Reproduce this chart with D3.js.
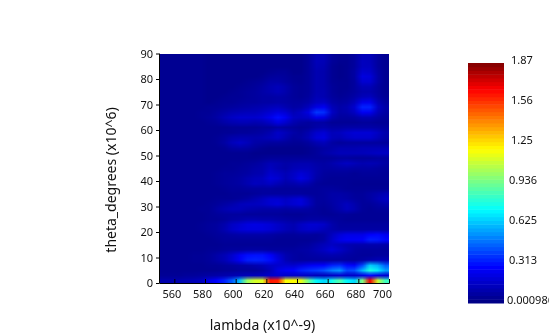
<!DOCTYPE html>
<html>
<head>
<meta charset="utf-8">
<script src="https://cdn.jsdelivr.net/npm/d3@7/dist/d3.min.js"></script>
<style>
  html, body { margin: 0; padding: 0; background: #fff; overflow: hidden; }
  #chart { position: relative; width: 549px; height: 336px; overflow: hidden; }
  canvas, svg { position: absolute; left: 0; top: 0; }
  text { font-family: "Noto Sans", sans-serif; fill: #111; }
</style>
</head>
<body>
<div id="chart"></div>
<script>
const xTicks = [560, 580, 600, 620, 640, 660, 680, 700];
const yTicks = [0, 10, 20, 30, 40, 50, 60, 70, 80, 90];
const barLabels = ["1.87", "1.56", "1.25", "0.936", "0.625", "0.313", "0.000986"];
const barValues = [1.87, 1.56, 1.25, 0.936, 0.625, 0.313, 0.000986];
const jetStops = [0, 0.15, 0.39, 0.64, 0.89, 1];
const jetColors = ["#000080", "#0000ff", "#00ffff", "#ffff00", "#ff0000", "#800000"];

// intensity x100, rows run from theta 90 down to 0 in 2 degree steps, columns 550-700 in 5nm steps
const intensity = [
  [4,4,4,4,4,4,3,3,3,3,3,3,3,3,3,3,3,3,3,6,12,12,6,4,4,7,13,13,7,4],
  [4,4,4,4,4,4,3,3,3,3,3,3,3,3,3,3,3,3,3,6,13,12,6,4,4,7,14,13,7,4],
  [4,4,4,4,4,4,3,3,3,3,3,3,3,3,3,3,3,3,3,6,12,11,5,3,4,7,14,14,7,4],
  [4,4,4,4,4,4,3,3,3,3,3,3,3,3,4,5,5,3,3,6,11,10,5,3,4,8,17,16,8,4],
  [4,4,4,4,4,4,3,3,3,3,3,3,3,4,6,7,6,4,4,6,11,10,5,3,4,8,21,20,9,4],
  [4,4,4,4,4,4,3,3,3,3,3,4,5,6,9,9,7,5,4,6,11,10,5,4,4,7,18,18,9,4],
  [4,4,4,4,4,4,3,3,3,3,4,5,6,8,11,13,10,6,5,6,11,10,6,4,4,7,12,12,7,4],
  [4,4,4,4,4,4,3,3,3,4,5,6,7,9,11,13,10,6,5,6,11,11,6,4,5,7,10,10,7,4],
  [4,4,4,4,4,4,3,3,4,5,5,6,7,8,8,9,8,6,5,7,12,11,7,5,6,9,13,14,8,5],
  [4,4,4,4,4,4,3,4,5,5,6,7,7,8,8,9,8,7,7,9,14,15,9,7,8,13,23,24,12,7],
  [4,4,4,4,4,4,5,5,6,7,8,9,10,11,13,14,11,8,9,14,22,25,13,9,11,18,34,34,16,9],
  [4,4,4,4,4,5,5,7,9,11,12,13,13,15,18,21,18,12,15,22,38,36,16,9,10,15,26,25,13,8],
  [4,4,4,4,4,5,6,8,12,15,17,17,17,19,24,30,25,15,14,16,24,22,11,7,7,8,11,11,8,6],
  [4,4,4,4,4,4,5,6,9,11,12,12,11,12,16,22,17,11,8,7,8,8,5,5,5,5,6,6,5,5],
  [4,4,4,4,4,4,4,4,4,5,5,5,5,6,6,8,7,6,5,6,9,10,8,8,9,9,9,9,8,7],
  [4,4,4,4,4,4,4,4,5,5,6,6,7,8,11,16,13,9,7,11,17,19,13,14,17,19,19,19,15,10],
  [4,4,4,4,4,4,4,5,7,10,11,11,10,11,13,15,11,7,8,12,19,21,13,12,15,17,17,17,13,9],
  [4,4,4,4,4,4,4,5,8,13,16,13,9,8,7,7,6,5,5,7,11,13,8,6,7,7,7,7,7,6],
  [4,4,4,4,4,4,4,4,5,8,9,8,6,4,3,3,3,3,3,4,6,8,9,11,11,11,12,12,12,12],
  [4,4,4,4,4,4,4,4,4,4,4,4,3,3,3,3,3,3,3,4,6,9,11,13,13,13,13,14,15,15],
  [4,4,4,4,4,4,4,4,4,4,4,4,4,5,6,6,6,6,6,6,6,6,6,7,7,6,6,6,7,7],
  [4,4,4,4,4,4,4,4,4,5,5,6,7,9,12,11,9,10,11,11,9,8,10,13,15,13,11,12,11,8],
  [4,4,4,4,4,4,4,4,5,5,6,7,9,10,14,11,9,12,13,13,10,8,8,9,9,8,8,8,7,6],
  [4,4,4,4,4,4,4,5,6,6,7,8,10,11,17,15,12,15,19,16,10,7,6,6,6,5,6,6,6,5],
  [4,4,4,4,4,4,4,5,6,7,8,11,13,14,20,18,12,16,22,17,9,6,5,5,5,5,5,5,5,5],
  [4,4,4,4,4,4,4,5,6,7,8,11,14,13,15,12,9,10,12,10,6,5,5,5,5,4,4,4,4,4],
  [4,4,4,4,4,4,4,4,5,6,6,7,7,7,7,6,6,6,6,6,6,7,7,6,5,5,5,5,5,5],
  [4,4,4,4,4,4,4,4,4,5,5,5,6,7,7,7,7,7,7,6,6,7,9,9,8,6,6,8,10,12],
  [4,4,4,4,4,4,4,5,5,5,6,8,11,14,18,18,15,18,20,13,7,7,9,10,9,7,6,8,12,15],
  [4,4,4,4,4,4,5,6,8,10,13,14,14,15,18,20,16,18,20,14,7,6,8,11,14,10,6,6,8,10],
  [4,4,4,4,4,5,5,8,11,13,13,11,10,9,9,9,8,9,9,8,6,5,7,10,14,11,6,5,6,6],
  [4,4,4,4,4,4,5,6,7,7,7,6,6,6,6,6,5,5,5,6,6,5,5,6,6,5,5,5,5,5],
  [4,4,4,4,4,4,5,5,6,8,9,11,11,10,10,9,8,7,7,8,8,8,7,6,5,5,5,5,5,5],
  [4,4,4,4,4,5,6,7,10,15,18,21,22,21,19,16,13,11,15,18,18,16,10,7,7,7,7,7,7,7],
  [4,4,4,4,4,5,6,7,11,16,19,21,21,21,19,16,13,11,15,17,16,13,10,8,8,8,8,8,8,8],
  [4,4,4,4,4,4,5,6,7,8,9,9,9,9,8,7,6,6,7,7,6,8,14,20,23,23,23,28,29,25],
  [4,4,4,4,4,4,4,5,6,6,6,6,6,6,6,5,5,5,5,5,6,8,16,23,26,26,27,33,32,29],
  [4,4,4,4,4,4,4,4,5,5,5,5,5,5,5,5,5,5,6,7,10,13,15,13,11,10,10,10,10,9],
  [4,4,4,4,4,4,5,5,6,7,7,8,8,8,7,7,7,7,8,9,12,15,20,16,12,8,7,7,7,6],
  [4,4,4,4,5,5,6,9,12,17,25,30,31,31,27,18,11,8,7,8,9,10,11,10,8,7,6,6,7,7],
  [4,4,4,4,5,5,6,9,12,18,26,33,34,33,30,21,12,8,7,7,7,7,7,7,7,6,8,10,12,12],
  [4,4,4,4,4,4,5,5,6,7,8,9,11,13,16,17,18,17,21,25,27,28,33,35,29,27,40,64,58,44],
  [4,4,4,4,4,4,4,4,5,5,6,6,6,8,13,22,26,28,33,36,38,42,50,54,40,42,60,78,70,56],
  [5,5,5,6,6,7,8,9,10,11,12,13,13,14,16,18,16,16,16,15,13,13,15,18,16,16,22,30,22,18],
  [10,10,10,11,12,14,22,28,34,44,62,102,112,114,162,160,118,120,116,92,72,66,76,88,72,66,96,168,110,84]
];

const width = 549, height = 336;
const plot = {left: 159, right: 389, top: 53.5, bottom: 283};
const bar = {left: 468, right: 504, top: 63, bottom: 303};

const x = d3.scaleLinear().domain([550, 700]).range([plot.left, plot.right]);
const y = d3.scaleLinear().domain([0, 90]).range([plot.bottom, plot.top]);
const color = d3.scaleLinear()
  .domain(jetStops.map(d => 0.000986 + d * (1.87 - 0.000986)))
  .range(jetColors)
  .interpolate(d3.interpolateRgb)
  .clamp(true);

const chart = d3.select("#chart");

// one pixel per cell, the browser smooths it when scaled up
const nRows = intensity.length, nCols = intensity[0].length;
const small = document.createElement("canvas");
small.width = nCols;
small.height = nRows;
const sctx = small.getContext("2d");
intensity.forEach((row, r) => {
  row.forEach((v, c) => {
    sctx.fillStyle = color(v / 100);
    sctx.fillRect(c, r, 1, 1);
  });
});

const canvas = chart.append("canvas").attr("width", width).attr("height", height).node();
const ctx = canvas.getContext("2d");
ctx.imageSmoothingEnabled = true;
ctx.imageSmoothingQuality = "low";
ctx.drawImage(small, plot.left, plot.top, plot.right - plot.left, plot.bottom - plot.top);

// colour bar, 64 flat steps
const steps = d3.range(64);
const barY = d3.scaleLinear().domain([0.000986, 1.87]).range([bar.bottom, bar.top]);
const stepH = (bar.bottom - bar.top) / steps.length;
steps.forEach(i => {
  ctx.fillStyle = color(0.000986 + (i + 0.5) / steps.length * (1.87 - 0.000986));
  ctx.fillRect(bar.left, bar.bottom - (i + 1) * stepH, bar.right - bar.left, stepH + 0.5);
});

const svg = chart.append("svg").attr("width", width).attr("height", height);

const xAxis = svg.append("g")
  .attr("transform", `translate(0,${plot.bottom})`)
  .call(d3.axisBottom(x).tickValues(xTicks).tickFormat(d3.format("d")).tickSize(-4).tickPadding(7));
xAxis.selectAll("text")
  .attr("dx", d => d === 700 ? -7 : -3)
  .style("font-size", "11px");

const yAxis = svg.append("g")
  .attr("transform", `translate(${plot.left},0)`)
  .call(d3.axisLeft(y).tickValues(yTicks).tickSize(3).tickPadding(3));
yAxis.selectAll("text").style("font-size", "11px");

svg.selectAll(".domain").attr("stroke", "#000").attr("stroke-width", 1);
svg.selectAll(".tick line").attr("stroke", "#000");
yAxis.select(".domain").attr("d", `M0.5,${plot.top}V${plot.bottom}`);

svg.append("text")
  .attr("x", 262.5).attr("y", 330)
  .attr("text-anchor", "middle")
  .style("font-size", "14px")
  .text("lambda (x10^-9)");

svg.append("text")
  .attr("transform", "translate(116,180) rotate(-90)")
  .attr("text-anchor", "middle")
  .style("font-size", "14px")
  .text("theta_degrees (x10^6)");

svg.append("g").selectAll("text")
  .data(barValues)
  .join("text")
  .attr("x", (d, i) => i === barValues.length - 1 ? 507 : i > 2 ? 509 : 511)
  .attr("y", d => barY(d) + 1)
  .style("font-size", "11px")
  .text((d, i) => barLabels[i]);
</script>
</body>
</html>
